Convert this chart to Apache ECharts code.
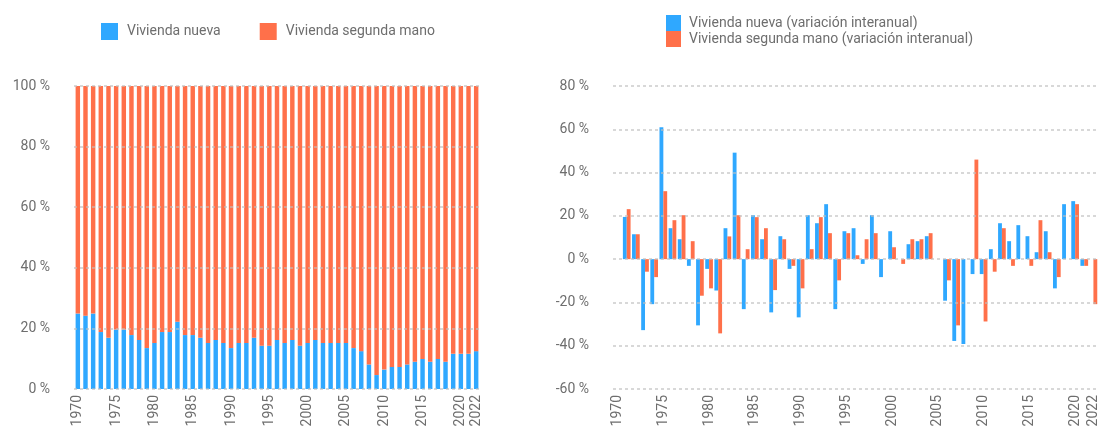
<!DOCTYPE html>
<html>
<head>
<meta charset="utf-8">
<script src="https://cdn.jsdelivr.net/npm/echarts@6/dist/echarts.min.js"></script>
<style>
  html, body { margin: 0; padding: 0; background: #fff; }
  #chart { width: 1098px; height: 426px; }
</style>
</head>
<body>
<div id="chart"></div>
<script>
// años (categorías)
const years = ['1970','1971','1972','1973','1974','1975','1976','1977','1978','1979',
  '1980','1981','1982','1983','1984','1985','1986','1987','1988','1989',
  '1990','1991','1992','1993','1994','1995','1996','1997','1998','1999',
  '2000','2001','2002','2003','2004','2005','2006','2007','2008','2009',
  '2010','2011','2012','2013','2014','2015','2016','2017','2018','2019',
  '2020','2021','2022'];

// cuota sobre el total (%)
const nuevaShare = [24.9,24.2,24.9,18.8,16.9,19.6,19.6,17.8,16.2,13.5,
  15.2,18.8,18.8,22.2,17.8,17.8,16.9,15.2,16.2,15.2,
  13.5,15.2,15.2,16.9,14.3,14.3,16.2,15.2,16.2,14.3,
  15.2,16.2,15.2,15.2,15.2,15.2,13.5,12.5,8.1,4.6,
  6.4,7.3,7.3,8.1,9.0,9.9,9.0,9.9,9.0,11.6,
  11.6,11.6,12.5];
const segundaShare = [75.1,75.8,75.1,81.2,83.1,80.4,80.4,82.2,83.8,86.5,
  84.8,81.2,81.2,77.8,82.2,82.2,83.1,84.8,83.8,84.8,
  86.5,84.8,84.8,83.1,85.7,85.7,83.8,84.8,83.8,85.7,
  84.8,83.8,84.8,84.8,84.8,84.8,86.5,87.5,91.9,95.4,
  93.6,92.7,92.7,91.9,91.0,90.1,91.0,90.1,91.0,88.4,
  88.4,88.4,87.5];

// variación interanual (%)
const nuevaVar = [null,19.5,11.5,-32.8,-20.8,60.9,14.3,9.2,-3.1,-30.6,
  -4.5,-14.5,14.3,49.2,-23.1,20.3,9.2,-24.6,10.6,-4.5,
  -26.9,20.3,16.6,25.4,-23.1,12.9,14.3,-2.2,20.3,-8.3,
  12.9,null,6.9,8.3,10.6,null,-19.2,-37.8,-39.2,-6.9,
  -6.9,4.6,16.6,8.3,15.7,10.6,3.2,12.9,-13.5,25.4,
  26.8,-3.1,null];
const segundaVar = [null,23.1,11.5,-5.8,-8.3,31.4,18.0,20.3,8.3,-16.9,
  -13.5,-34.3,10.5,20.3,4.6,19.4,14.3,-14.3,9.2,-3.1,
  -13.5,4.6,19.4,12.0,-9.8,12.0,1.8,9.2,12.0,null,
  5.5,-2.2,9.2,9.2,12.0,null,-9.8,-30.6,null,46.0,
  -28.8,-5.8,14.3,-3.1,null,-3.1,18.0,3.2,-8.3,null,
  25.4,-3.1,-20.8];

const AZUL = '#2fa8ff';
const NARANJA = '#ff704a';
const GRIS = '#6e6e6e';
const FONT = 'Roboto';

const showYear = (i, v) => (+v - 1970) % 5 === 0 || v === '2022';

function xAxisCfg(idx) {
  return {
    type: 'category', gridIndex: idx, data: years,
    axisLine: { show: false }, axisTick: { show: false },
    axisLabel: { interval: showYear, rotate: 90, margin: 6, color: GRIS, fontFamily: FONT, fontSize: 14, hideOverlap: false }
  };
}
function yAxisCfg(idx, min, max) {
  return {
    type: 'value', gridIndex: idx, min: min, max: max, interval: 20, z: 5,
    axisLine: { show: false }, axisTick: { show: false },
    axisLabel: { margin: 24, color: GRIS, fontFamily: FONT, fontSize: 14, formatter: v => v + ' %' },
    splitLine: { lineStyle: { color: 'rgba(190,190,190,0.8)', width: 1.5, type: [3, 3] } }
  };
}

const chart = echarts.init(document.getElementById('chart'));
chart.setOption({
  backgroundColor: '#fff',
  animation: false,
  textStyle: { fontFamily: FONT },
  legend: [
    {
      data: ['Vivienda nueva', 'Vivienda segunda mano'],
      left: 101, top: 23, padding: 0, itemWidth: 17, itemHeight: 17, itemGap: 39,
      icon: 'rect',
      textStyle: { color: GRIS, fontSize: 14, padding: [0, 0, 0, 4] }
    },
    {
      data: ['Vivienda nueva (variación interanual)', 'Vivienda segunda mano (variación interanual)'],
      orient: 'vertical', left: 666, top: 15, padding: 0, itemWidth: 15, itemHeight: 16, itemGap: 0,
      icon: 'rect',
      textStyle: { color: GRIS, fontSize: 14, padding: [0, 0, 0, 3] }
    }
  ],
  grid: [
    { left: 74, width: 406, top: 86, bottom: 37, outerBoundsMode: 'none' },
    { left: 613, width: 485, top: 86, bottom: 37, outerBoundsMode: 'none' }
  ],
  xAxis: [xAxisCfg(0), xAxisCfg(1)],
  yAxis: [yAxisCfg(0, 0, 100), yAxisCfg(1, -60, 80)],
  series: [
    { name: 'Vivienda nueva', type: 'bar', stack: 'cuota', xAxisIndex: 0, yAxisIndex: 0,
      barWidth: '58%', itemStyle: { color: AZUL }, data: nuevaShare },
    { name: 'Vivienda segunda mano', type: 'bar', stack: 'cuota', xAxisIndex: 0, yAxisIndex: 0,
      barWidth: '58%', itemStyle: { color: NARANJA }, data: segundaShare },
    { name: 'Vivienda nueva (variación interanual)', type: 'bar', xAxisIndex: 1, yAxisIndex: 1,
      barGap: '0%', barCategoryGap: '16%', itemStyle: { color: AZUL }, data: nuevaVar },
    { name: 'Vivienda segunda mano (variación interanual)', type: 'bar', xAxisIndex: 1, yAxisIndex: 1,
      barGap: '0%', barCategoryGap: '16%', itemStyle: { color: NARANJA }, data: segundaVar }
  ]
});
window.addEventListener('resize', () => chart.resize());
</script>
</body>
</html>
